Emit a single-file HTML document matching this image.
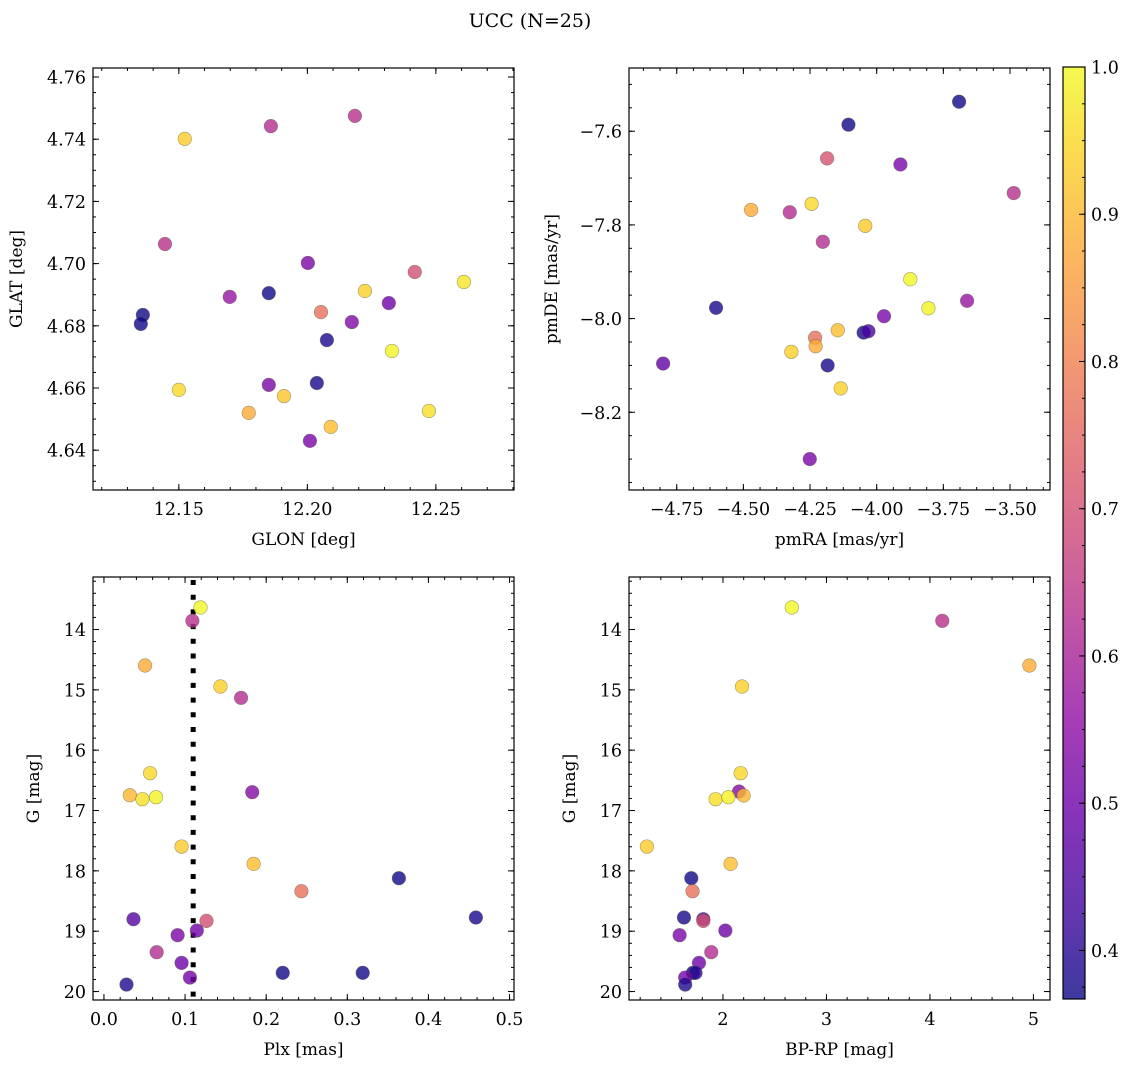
<!DOCTYPE html>
<html><head><meta charset="utf-8"><style>
html,body{margin:0;padding:0;background:#fff;}
svg{display:block;}
text{font-family:"DejaVu Serif","Liberation Serif",serif;fill:#000;}
</style></head><body>
<svg id="fig" width="1135" height="1067" viewBox="0 0 1135 1067" xmlns="http://www.w3.org/2000/svg">
<defs>
<linearGradient id="plasmaGrad" x1="0" y1="1" x2="0" y2="0">
<stop offset="0" stop-color="#0d0887"/><stop offset="0.1" stop-color="#41049d"/><stop offset="0.2" stop-color="#6a00a8"/><stop offset="0.3" stop-color="#8f0da4"/><stop offset="0.4" stop-color="#b12a90"/><stop offset="0.5" stop-color="#cc4778"/><stop offset="0.6" stop-color="#e16462"/><stop offset="0.7" stop-color="#f2844b"/><stop offset="0.8" stop-color="#fca636"/><stop offset="0.9" stop-color="#fcce25"/><stop offset="1" stop-color="#f0f921"/>
</linearGradient>
</defs>
<text x="530" y="27" font-size="19" text-anchor="middle">UCC (N=25)</text>
</svg>
<script>
// Panel 1: GLON vs GLAT
const glon = [12.1523,12.1858,12.2185,12.1446,12.1698,12.185,12.136,12.1352,12.2002,12.2053,12.2224,12.2418,12.2609,12.2317,12.2173,12.2329,12.2076,12.2037,12.185,12.15,12.1909,12.1772,12.2473,12.2091,12.201];
const glat = [4.7401,4.7442,4.7475,4.7063,4.6893,4.6905,4.6835,4.6806,4.7002,4.6844,4.6912,4.6973,4.6941,4.6873,4.6812,4.6719,4.6754,4.6616,4.661,4.6594,4.6574,4.652,4.6526,4.6475,4.643];
const prob1 = [0.93,0.62,0.63,0.63,0.57,0.37,0.37,0.37,0.52,0.77,0.94,0.70,0.97,0.50,0.53,0.99,0.38,0.38,0.52,0.95,0.92,0.88,0.96,0.91,0.52];
// Panel 2: pmRA vs pmDE
const pmra = [-3.691,-4.106,-4.186,-3.911,-3.486,-4.471,-4.326,-4.244,-4.043,-4.202,-3.874,-4.6025,-3.806,-3.661,-3.9725,-4.049,-4.031,-4.146,-4.231,-4.229,-4.32,-4.184,-4.135,-4.801,-4.251];
const pmde = [-7.537,-7.586,-7.658,-7.671,-7.732,-7.768,-7.773,-7.755,-7.802,-7.836,-7.916,-7.977,-7.978,-7.962,-7.995,-8.03,-8.027,-8.025,-8.041,-8.059,-8.071,-8.1,-8.149,-8.096,-8.3];
const prob2 = [0.37,0.37,0.71,0.52,0.63,0.88,0.62,0.95,0.93,0.62,1.0,0.38,0.99,0.57,0.52,0.38,0.44,0.91,0.77,0.88,0.94,0.38,0.94,0.48,0.52];
// Panel 3: Plx vs G
const plx = [0.119,0.109,0.0507,0.1436,0.169,0.0569,0.0319,0.0474,0.0642,0.1828,0.0957,0.1845,0.3636,0.2434,0.0364,0.1264,0.4585,0.1145,0.0908,0.065,0.0957,0.2204,0.319,0.106,0.0278];
const gmag3 = [13.635,13.856,14.597,14.945,15.133,16.381,16.746,16.812,16.779,16.696,17.597,17.884,18.122,18.337,18.801,18.829,18.773,18.989,19.066,19.348,19.525,19.69,19.69,19.768,19.884];
const prob3 = [1.0,0.63,0.88,0.94,0.62,0.95,0.9,0.96,0.99,0.54,0.93,0.91,0.37,0.77,0.46,0.70,0.38,0.50,0.52,0.62,0.50,0.37,0.37,0.51,0.39];
// Panel 4: BP-RP vs G
const bprp = [2.665,4.119,4.961,2.184,2.171,2.155,2.2,1.929,2.052,1.265,2.074,1.694,1.706,1.623,1.81,2.023,1.581,1.887,1.768,1.71,1.735,1.635,1.635,1.81];
const gmag4 = [13.635,13.856,14.597,14.945,16.381,16.685,16.751,16.812,16.779,17.597,17.884,18.122,18.337,18.773,18.801,18.989,19.066,19.348,19.525,19.69,19.69,19.768,19.884,18.829];
const prob4 = [1.0,0.63,0.88,0.94,0.95,0.54,0.9,0.96,0.99,0.93,0.91,0.37,0.77,0.38,0.46,0.50,0.52,0.62,0.50,0.37,0.40,0.51,0.39,0.70];
const plxLine = [0.110];
const cbTicks = [0.4,0.5,0.6,0.7,0.8,0.9,1.0];
const cbLabels = ["0.4","0.5","0.6","0.7","0.8","0.9","1.0"];

const NS = "http://www.w3.org/2000/svg";
const svg = document.getElementById('fig');
const VMIN = 0.367, VMAX = 1.0;
const TF = 17.5, LF = 17;
const plasma = ['#0d0887','#41049d','#6a00a8','#8f0da4','#b12a90','#cc4778','#e16462','#f2844b','#fca636','#fcce25','#f0f921'];
function hex(c){return [parseInt(c.substr(1,2),16),parseInt(c.substr(3,2),16),parseInt(c.substr(5,2),16)];}
function cmap(v){
  let t=(v-VMIN)/(VMAX-VMIN); t=Math.max(0,Math.min(1,t));
  const f=t*10, i=Math.min(9,Math.floor(f)), r=f-i;
  const a=hex(plasma[i]), b=hex(plasma[i+1]);
  return 'rgb('+a.map((x,k)=>Math.round(x+(b[k]-x)*r)).join(',')+')';
}
function mk(tag, attrs, parent){
  const e=document.createElementNS(NS,tag);
  for(const k in attrs) e.setAttribute(k,attrs[k]);
  (parent||svg).appendChild(e); return e;
}
function ticksRange(lo,hi,step){const out=[];const s=Math.ceil(lo/step-1e-9);for(let i=s;i*step<=hi+1e-9;i++)out.push(+(i*step).toFixed(6));return out;}

function panel(cfg){
  const {x0,y0,w,h,xd,yd,invY,name}=cfg;
  const g=mk('g',{});
  
  
  const sx=v=>x0+(v-xd[0])/(xd[1]-xd[0])*w;
  const sy=invY? (v=>y0+(v-yd[0])/(yd[1]-yd[0])*h) : (v=>y0+h-(v-yd[0])/(yd[1]-yd[0])*h);
  const tg=mk('g',{stroke:'#000','stroke-width':1},g);
  ticksRange(xd[0],xd[1],cfg.xminor).forEach(v=>{const x=sx(v);mk('line',{x1:x,x2:x,y1:y0+h,y2:y0+h-3},tg);mk('line',{x1:x,x2:x,y1:y0,y2:y0+3},tg);});
  ticksRange(yd[0],yd[1],cfg.yminor).forEach(v=>{const y=sy(v);mk('line',{x1:x0,x2:x0+3,y1:y,y2:y},tg);mk('line',{x1:x0+w,x2:x0+w-3,y1:y,y2:y},tg);});
  cfg.xticks.forEach((v,i)=>{const x=sx(v);mk('line',{x1:x,x2:x,y1:y0+h,y2:y0+h-6},tg);mk('line',{x1:x,x2:x,y1:y0,y2:y0+6},tg);
    const t=mk('text',{x:x,y:y0+h+25,'font-size':TF,'text-anchor':'middle'},g);t.textContent=cfg.xlabels[i];
    
    });
  cfg.yticks.forEach((v,i)=>{const y=sy(v);mk('line',{x1:x0,x2:x0+6,y1:y,y2:y},tg);mk('line',{x1:x0+w,x2:x0+w-6,y1:y,y2:y},tg);
    const t=mk('text',{x:x0-7,y:y+6.5,'font-size':TF,'text-anchor':'end'},g);t.textContent=cfg.ylabels[i];
    
    });
  const xl=mk('text',{x:x0+w/2,y:y0+h+55,'font-size':LF,'text-anchor':'middle'},g);xl.textContent=cfg.xtitle;
  
  
  const yl=mk('text',{x:0,y:0,'font-size':LF,'text-anchor':'middle',transform:`translate(${cfg.ytx},${y0+h/2}) rotate(-90)`},g);yl.textContent=cfg.ytitle;
  
  
  if(cfg.vline){cfg.vline.forEach(v=>{const l=mk('line',{x1:sx(v),x2:sx(v),y1:y0+3,y2:y0+h,stroke:'#000','stroke-width':5,'stroke-dasharray':'5,9.7'},g);
    
    });}
  cfg.xs.forEach((xv,i)=>{
    const c=mk('circle',{cx:sx(xv),cy:sy(cfg.ys[i]),r:6.8,fill:cmap(cfg.cs[i]),'fill-opacity':0.8,stroke:'#555540','stroke-opacity':0.55,'stroke-width':0.6},g);
    
    
  });
  const fr=mk('rect',{x:x0,y:y0,width:w,height:h,fill:'none',stroke:'#000','stroke-width':1.2},g);
  
  
}

panel({name:'glon-glat-panel',x0:93,y0:68,w:421,h:422,xd:[12.1166,12.2804],yd:[4.6272,4.7629],
  xticks:[12.15,12.20,12.25],xlabels:['12.15','12.20','12.25'],xminor:0.01,
  yticks:[4.64,4.66,4.68,4.70,4.72,4.74,4.76],ylabels:['4.64','4.66','4.68','4.70','4.72','4.74','4.76'],yminor:0.005,
  xtitle:'GLON [deg]',ytitle:'GLAT [deg]',ytx:22,xs:glon,ys:glat,cs:prob1});
panel({name:'pm-panel',x0:629,y0:68,w:421,h:422,xd:[-4.929,-3.35],yd:[-8.366,-7.465],
  xticks:[-4.75,-4.5,-4.25,-4.0,-3.75,-3.5],xlabels:['−4.75','−4.50','−4.25','−4.00','−3.75','−3.50'],xminor:0.0625,
  yticks:[-8.2,-8.0,-7.8,-7.6],ylabels:['−8.2','−8.0','−7.8','−7.6'],yminor:0.05,
  xtitle:'pmRA [mas/yr]',ytitle:'pmDE [mas/yr]',ytx:557,xs:pmra,ys:pmde,cs:prob2});
panel({name:'plx-g-panel',x0:93,y0:577,w:421,h:423,invY:true,xd:[-0.0135,0.5055],yd:[13.13,20.14],
  xticks:[0,0.1,0.2,0.3,0.4,0.5],xlabels:['0.0','0.1','0.2','0.3','0.4','0.5'],xminor:0.02,
  yticks:[14,15,16,17,18,19,20],ylabels:['14','15','16','17','18','19','20'],yminor:0.2,
  xtitle:'Plx [mas]',ytitle:'G [mag]',ytx:39,xs:plx,ys:gmag3,cs:prob3,vline:plxLine});
panel({name:'cmd-panel',x0:629,y0:577,w:421,h:423,invY:true,xd:[1.092,5.16],yd:[13.13,20.14],
  xticks:[2,3,4,5],xlabels:['2','3','4','5'],xminor:0.2,
  yticks:[14,15,16,17,18,19,20],ylabels:['14','15','16','17','18','19','20'],yminor:0.2,
  xtitle:'BP-RP [mag]',ytitle:'G [mag]',ytx:575,xs:bprp,ys:gmag4,cs:prob4});

// colorbar
const cb=mk('g',{});


const CBX=1063,CBY=67,CBW=22,CBH=932;
mk('rect',{x:CBX,y:CBY,width:CBW,height:CBH,fill:'url(#plasmaGrad)','fill-opacity':0.8},cb);
const cy=v=>CBY+CBH-(v-VMIN)/(VMAX-VMIN)*CBH;
ticksRange(VMIN,VMAX,0.025).forEach(v=>{const y=cy(v);mk('line',{x1:CBX+CBW,x2:CBX+CBW-3,y1:y,y2:y,stroke:'#000','stroke-width':1},cb);});
cbTicks.forEach((v,i)=>{const y=cy(v);mk('line',{x1:CBX+CBW,x2:CBX+CBW-6,y1:y,y2:y,stroke:'#000','stroke-width':1},cb);
  const t=mk('text',{x:CBX+CBW+6,y:y+6.5,'font-size':TF},cb);t.textContent=cbLabels[i];
  
  });
mk('rect',{x:CBX,y:CBY,width:CBW,height:CBH,fill:'none',stroke:'#000','stroke-width':1.2},cb);
</script>
</body></html>
